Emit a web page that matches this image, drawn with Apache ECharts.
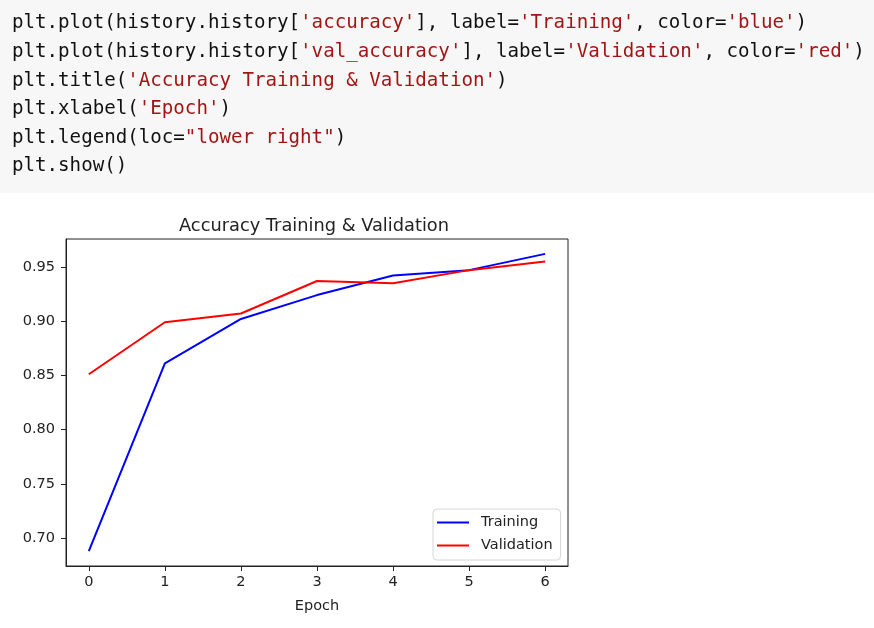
<!DOCTYPE html>
<html>
<head>
<meta charset="utf-8">
<script src="https://cdn.jsdelivr.net/npm/echarts@6/dist/echarts.min.js"></script>
<style>
html,body{margin:0;padding:0;background:#fff;}
#chart{width:874px;height:628px;}
</style>
</head>
<body>
<div id="chart"></div>
<script>
// ---- data ----
const epochs = [0, 1, 2, 3, 4, 5, 6];
const trainingAcc = [0.688, 0.861, 0.902, 0.924, 0.942, 0.947, 0.962];
const validationAcc = [0.851, 0.899, 0.907, 0.937, 0.935, 0.947, 0.955];
const xTickValues = [0, 1, 2, 3, 4, 5, 6];
const yTickValues = [0.70, 0.75, 0.80, 0.85, 0.90, 0.95];
const seriesNames = ['Training', 'Validation'];
const chartTitle = 'Accuracy Training & Validation';
const xLabel = 'Epoch';
const codeLines = [
  "plt.plot(history.history['accuracy'], label='Training', color='blue')",
  "plt.plot(history.history['val_accuracy'], label='Validation', color='red')",
  "plt.title('Accuracy Training & Validation')",
  "plt.xlabel('Epoch')",
  'plt.legend(loc="lower right")',
  "plt.show()"
];

// matplotlib-like auto margins (5%)
const allY = trainingAcc.concat(validationAcc);
const yLo = Math.min(...allY), yHi = Math.max(...allY);
const yPad = (yHi - yLo) * 0.05;
const xLo = Math.min(...epochs), xHi = Math.max(...epochs);
const xPad = (xHi - xLo) * 0.05;

function richLine(line) {
  const parts = line.split(/('[^']*'|"[^"]*")/).filter(p => p.length);
  return parts.map(p => (p[0] === "'" || p[0] === '"') ? '{s|' + p + '}' : '{k|' + p + '}').join('');
}

const codeFont = '"DejaVu Sans Mono", monospace';
const codeGraphics = [{
  type: 'rect', left: 0, top: 0, z: 0,
  shape: {width: 874, height: 193},
  style: {fill: '#f7f7f7'}
}];
codeLines.forEach((ln, i) => {
  codeGraphics.push({
    type: 'text', x: 12, y: 23.5 + i * 28.6, z: 1,
    style: {
      text: richLine(ln),
      verticalAlign: 'middle',
      align: 'left',
      rich: {
        k: {fontFamily: codeFont, fontSize: 19.15, fill: '#111', color: '#111'},
        s: {fontFamily: codeFont, fontSize: 19.15, fill: '#a31515', color: '#a31515'}
      }
    }
  });
});

const sans = '"DejaVu Sans", sans-serif';
const chart = echarts.init(document.getElementById('chart'), null, {renderer: 'canvas'});
chart.setOption({
  animation: false,
  backgroundColor: '#fff',
  title: {
    text: chartTitle, left: 179, top: 217, padding: 0,
    textStyle: {fontFamily: sans, fontSize: 17.8, fontWeight: 'normal', color: '#222'}
  },
  graphic: codeGraphics,
  grid: {
    left: 66, top: 239, width: 502, height: 327,
    show: true, borderColor: '#222', borderWidth: 1, backgroundColor: 'transparent'
  },
  legend: {
    data: seriesNames,
    orient: 'vertical', left: 433, top: 509,
    backgroundColor: 'rgba(255,255,255,0.8)',
    borderColor: '#d6d6d6', borderWidth: 1, borderRadius: 4,
    padding: [5, 8, 6, 4],
    icon: 'rect', itemWidth: 32, itemHeight: 2, itemGap: 6,
    textStyle: {fontFamily: sans, fontSize: 14.5, color: '#222', padding: [0, 0, 0, 7], lineHeight: 17}
  },
  xAxis: {
    type: 'value', min: xLo - xPad, max: xHi + xPad,
    name: xLabel, nameLocation: 'middle', nameGap: 33,
    nameTextStyle: {fontFamily: sans, fontSize: 14.5, color: '#222'},
    splitLine: {show: false},
    axisLine: {show: true, onZero: false, lineStyle: {color: '#222', width: 1}},
    axisTick: {show: true, length: 5, lineStyle: {color: '#222'}, customValues: xTickValues},
    axisLabel: {fontFamily: sans, fontSize: 14.5, color: '#222', margin: 9, customValues: xTickValues,
      formatter: v => String(Math.round(v))}
  },
  yAxis: {
    type: 'value', min: yLo - yPad, max: yHi + yPad,
    splitLine: {show: false},
    axisLine: {show: true, onZero: false, lineStyle: {color: '#222', width: 1}},
    axisTick: {show: true, length: 5, lineStyle: {color: '#222'}, customValues: yTickValues},
    axisLabel: {fontFamily: sans, fontSize: 14.5, color: '#222', margin: 11, customValues: yTickValues,
      formatter: v => v.toFixed(2)}
  },
  series: [
    {
      name: seriesNames[0], type: 'line', symbol: 'none',
      data: epochs.map((e, i) => [e, trainingAcc[i]]),
      color: '#0000ff', lineStyle: {color: '#0000ff', width: 2}, z: 2
    },
    {
      name: seriesNames[1], type: 'line', symbol: 'none',
      data: epochs.map((e, i) => [e, validationAcc[i]]),
      color: '#ff0000', lineStyle: {color: '#ff0000', width: 2}, z: 3
    }
  ]
});
</script>
</body>
</html>
